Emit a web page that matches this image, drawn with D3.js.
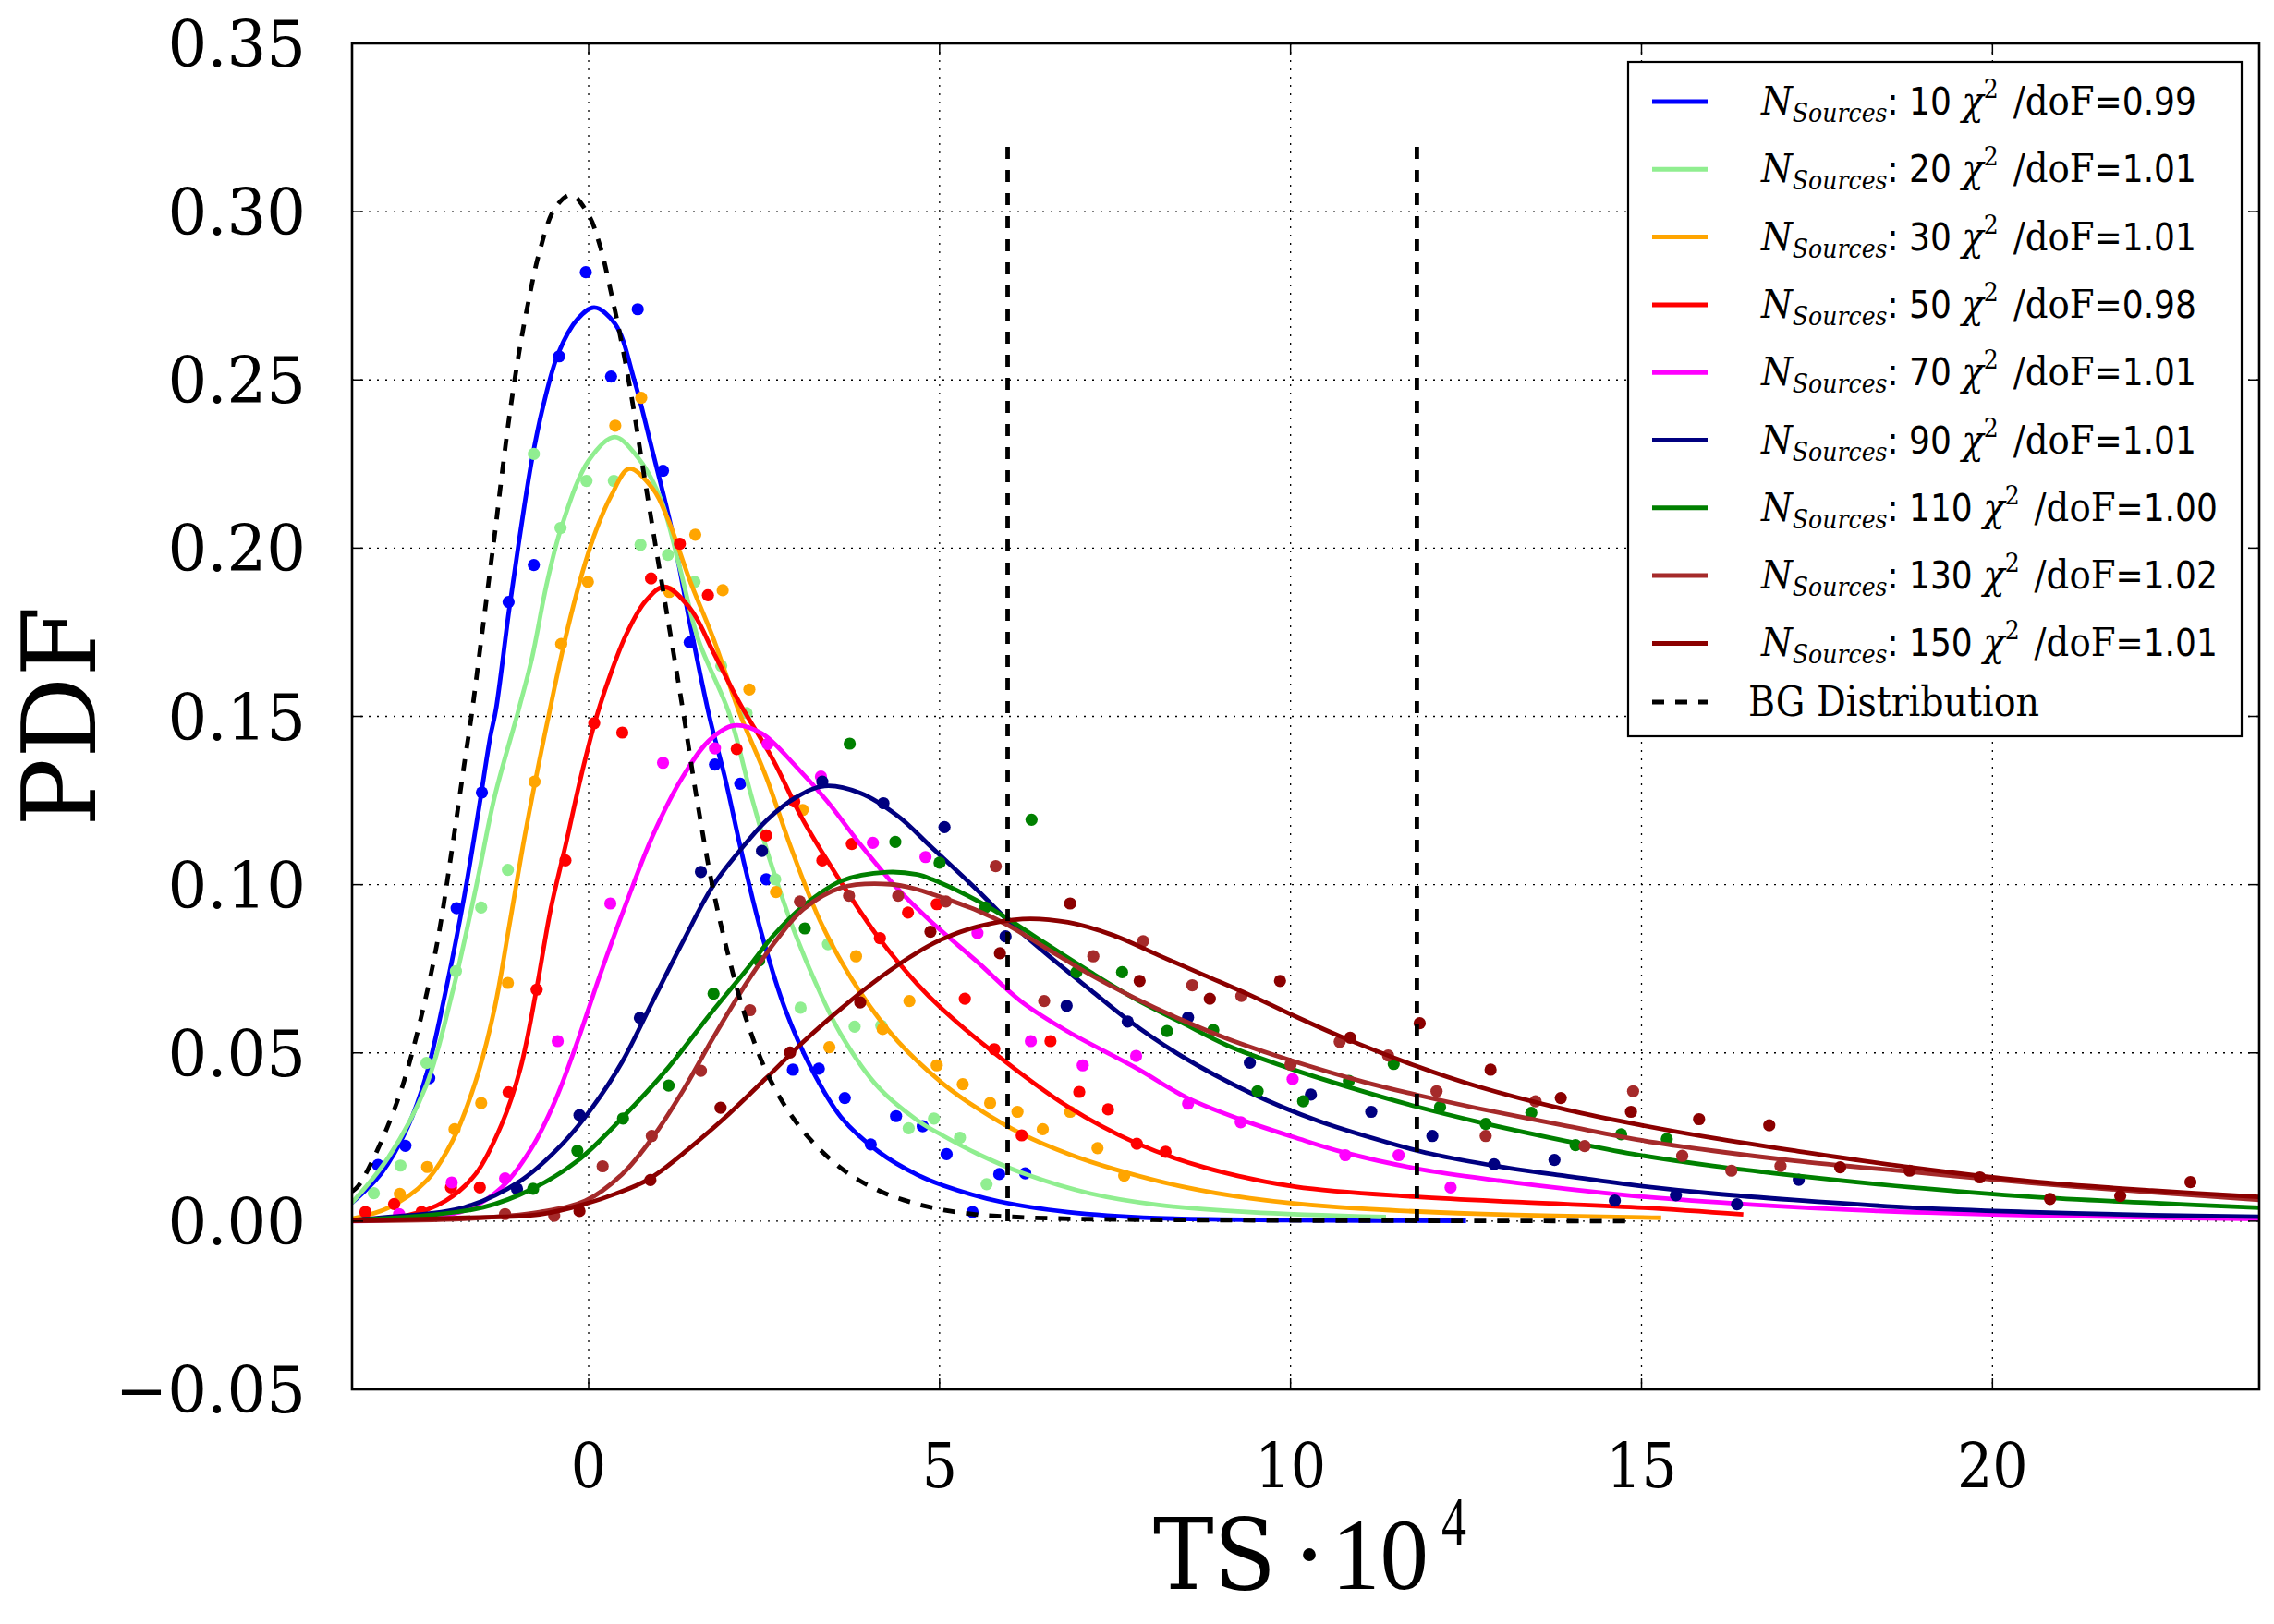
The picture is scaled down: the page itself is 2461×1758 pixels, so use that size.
<!DOCTYPE html>
<html><head><meta charset="utf-8">
<script src="https://cdn.jsdelivr.net/npm/d3@7"></script>
<style>body{margin:0;background:#fff} svg{display:block}</style>
</head><body>
<script>
// ---------------- DATA ----------------
const nSources = ["10","20","30","50","70","90","110","130","150"];
const chi2Labels = ["0.99","1.01","1.01","0.98","1.01","1.01","1.00","1.02","1.01"];
const colors = ["#0000ff","#90ee90","#ffa500","#ff0000","#ff00ff","#000080","#008000","#a52a2a","#8b0000"];

const xTicks = [0,5,10,15,20];
const yTicks = [-0.05,0,0.05,0.10,0.15,0.20,0.25,0.30,0.35];

// fitted curves (x, pdf)
const fit10 = [[-3.37,0.0055],[-2.96,0.014],[-2.58,0.0278],[-2.31,0.0435],[-2.04,0.068],[-1.77,0.0967],[-1.56,0.123],[-1.40,0.144],[-1.32,0.152],[-1.13,0.182],[-0.97,0.205],[-0.81,0.226],[-0.65,0.242],[-0.43,0.258],[-0.16,0.268],[0.08,0.2715],[0.38,0.2666],[0.65,0.25],[0.92,0.228],[1.19,0.205],[1.45,0.177],[1.72,0.150],[1.94,0.132],[2.20,0.1077],[2.47,0.085],[2.80,0.063],[3.17,0.0455],[3.60,0.0308],[4.14,0.0205],[4.68,0.0138],[5.04,0.0107],[5.86,0.0058],[6.83,0.0027],[8.1,0.0009],[10,0.0003],[12.5,0.0001]];
const fit20 = [[-3.37,0.0055],[-2.85,0.019],[-2.31,0.0405],[-1.94,0.068],[-1.61,0.0986],[-1.34,0.126],[-1.01,0.151],[-0.81,0.167],[-0.59,0.19],[-0.38,0.2067],[0,0.226],[0.37,0.233],[0.70,0.227],[1.02,0.215],[1.29,0.195],[1.56,0.173],[2.0,0.151],[2.31,0.127],[2.58,0.1075],[2.90,0.0878],[3.23,0.071],[3.60,0.0553],[4.14,0.0395],[4.68,0.0300],[5.04,0.0255],[5.54,0.0200],[6.18,0.0143],[7.15,0.0082],[8.12,0.0048],[9.42,0.0027],[11.36,0.0012]];
const fit30 = [[-3.37,0.0007],[-2.85,0.004],[-2.31,0.012],[-1.94,0.0238],[-1.61,0.0415],[-1.34,0.0632],[-1.13,0.0878],[-0.91,0.1144],[-0.70,0.137],[-0.566,0.1505],[-0.377,0.1690],[-0.216,0.1830],[-0.05,0.1955],[0.11,0.2055],[0.32,0.2155],[0.58,0.2236],[0.92,0.2175],[1.13,0.2086],[1.45,0.19],[1.78,0.173],[2.15,0.151],[2.53,0.132],[2.90,0.110],[3.33,0.0878],[3.87,0.068],[4.41,0.0533],[5.04,0.0410],[5.54,0.0335],[6.18,0.0258],[6.83,0.0200],[7.48,0.0155],[8.45,0.0103],[9.42,0.0068],[10.7,0.0041],[12.65,0.0022],[15.28,0.0010]];
const fit50 = [[-3.37,0.0002],[-2.58,0.0017],[-2.04,0.006],[-1.61,0.014],[-1.24,0.0287],[-0.97,0.0455],[-0.75,0.068],[-0.54,0.0927],[-0.32,0.1124],[-0.11,0.132],[0.10,0.149],[0.32,0.163],[0.54,0.1745],[0.81,0.1842],[1.08,0.1885],[1.45,0.182],[1.78,0.169],[2.15,0.154],[2.63,0.137],[3.06,0.119],[3.60,0.1006],[4.14,0.084],[4.68,0.0705],[5.04,0.0630],[5.73,0.0508],[6.83,0.0340],[7.80,0.0232],[8.77,0.0160],[10.07,0.0102],[11.8,0.0072],[13.3,0.0056],[15.03,0.004],[16.45,0.002]];
const fit70 = [[-3.37,0.0],[-2.58,0.0007],[-1.77,0.0031],[-1.24,0.010],[-0.81,0.0218],[-0.48,0.0356],[-0.16,0.0533],[0.16,0.073],[0.54,0.0947],[0.91,0.1144],[1.34,0.132],[1.72,0.1429],[2.07,0.1473],[2.47,0.1449],[2.96,0.135],[3.39,0.125],[3.87,0.112],[4.41,0.0986],[4.89,0.0888],[5.54,0.077],[6.18,0.065],[6.83,0.0563],[7.80,0.0455],[8.54,0.0365],[9.29,0.0302],[10.07,0.0248],[10.78,0.0203],[11.8,0.0156],[12.98,0.012],[14.89,0.0075],[16.59,0.0049],[18.3,0.0031],[20,0.002],[21.7,0.0013],[23.8,0.0006]];
const fit90 = [[-3.37,0.0003],[-2.85,0.0012],[-1.77,0.0041],[-0.97,0.012],[-0.38,0.0228],[0.05,0.0337],[0.48,0.0474],[0.91,0.0652],[1.34,0.0829],[1.77,0.0996],[2.15,0.110],[2.53,0.119],[2.96,0.126],[3.36,0.1293],[3.87,0.1272],[4.41,0.1203],[4.89,0.111],[5.54,0.0983],[5.97,0.0894],[6.51,0.0796],[7.15,0.0687],[7.67,0.0600],[8.45,0.049],[9.42,0.0382],[10.39,0.0298],[11.36,0.0235],[12.0,0.0200],[12.98,0.0162],[13.95,0.0133],[14.89,0.0107],[16.02,0.0082],[17.16,0.0063],[18.86,0.004],[20.56,0.0027],[22.27,0.0018],[23.8,0.0013]];
const fit110 = [[-3.37,0.0003],[-2.31,0.0017],[-1.5,0.0041],[-0.81,0.0095],[-0.16,0.0179],[0.48,0.0307],[1.13,0.0455],[1.72,0.0612],[2.26,0.075],[2.63,0.0848],[3.06,0.0937],[3.60,0.1011],[4.25,0.1037],[4.68,0.103],[4.89,0.1016],[5.54,0.0952],[5.97,0.0899],[6.51,0.0825],[7.15,0.0740],[7.80,0.0659],[8.45,0.059],[9.1,0.0522],[10.0,0.0453],[11.04,0.0385],[11.8,0.034],[12.65,0.0296],[13.95,0.0237],[14.89,0.0199],[16.02,0.0164],[17.16,0.0136],[18.86,0.010],[20.56,0.0072],[22.27,0.0054],[23.8,0.004]];
const fit130 = [[-3.37,0.0001],[-1.77,0.0007],[-0.70,0.0027],[-0.05,0.006],[0.48,0.014],[0.91,0.0248],[1.34,0.0386],[1.77,0.0543],[2.26,0.0711],[2.69,0.0839],[3.06,0.0927],[3.60,0.0991],[4.30,0.1001],[4.68,0.0986],[4.89,0.0972],[5.54,0.0923],[5.97,0.0880],[6.51,0.0812],[7.15,0.0732],[7.80,0.0661],[8.45,0.0598],[9.1,0.0542],[10.0,0.0478],[11.04,0.0414],[11.8,0.0375],[12.65,0.0336],[13.95,0.0282],[15.0,0.0240],[16.02,0.0209],[17.16,0.0180],[18.86,0.0146],[20.56,0.0113],[22.27,0.0086],[23.8,0.0063]];
const fit150 = [[-3.37,0.0001],[-1.77,0.001],[-0.70,0.002],[-0.05,0.0051],[0.38,0.0081],[0.86,0.0125],[1.45,0.0219],[1.99,0.0317],[2.53,0.0425],[3.06,0.0533],[3.60,0.0632],[4.14,0.0722],[4.68,0.0798],[5.04,0.0838],[5.54,0.0875],[6.18,0.0898],[6.83,0.0888],[7.48,0.0849],[8.12,0.079],[8.77,0.0731],[9.42,0.0672],[10.0,0.0615],[10.71,0.0549],[11.8,0.0460],[12.65,0.0401],[13.95,0.0330],[15.0,0.0285],[16.02,0.0247],[17.16,0.0210],[18.86,0.0159],[20.56,0.0118],[22.27,0.0091],[23.8,0.0072]];

// histogram points (x, pdf)
const pts10 = [[-3.0,0.0167],[-2.61,0.0224],[-2.27,0.0425],[-1.88,0.093],[-1.52,0.1274],[-1.14,0.184],[-0.78,0.195],[-0.42,0.257],[-0.04,0.282],[0.32,0.251],[0.70,0.271],[1.06,0.223],[1.44,0.172],[1.80,0.1357],[2.16,0.130],[2.53,0.1016],[2.91,0.045],[3.28,0.0453],[3.65,0.0366],[4.02,0.0228],[4.38,0.0312],[4.76,0.0282],[5.10,0.0199],[5.47,0.0027],[5.85,0.014],[6.22,0.0142]];
const pts20 = [[-3.06,0.0083],[-2.68,0.0165],[-2.31,0.047],[-1.89,0.0743],[-1.53,0.0932],[-1.15,0.1044],[-0.78,0.228],[-0.40,0.206],[-0.03,0.22],[0.36,0.22],[0.74,0.201],[1.13,0.198],[1.51,0.19],[1.89,0.165],[2.25,0.151],[2.66,0.1016],[3.02,0.0634],[3.41,0.0823],[3.79,0.0578],[4.17,0.0581],[4.56,0.0276],[4.92,0.0305],[5.29,0.0248],[5.67,0.011]];
const pts30 = [[-2.69,0.0081],[-2.30,0.0161],[-1.91,0.0273],[-1.53,0.0351],[-1.15,0.0708],[-0.77,0.1306],[-0.39,0.1715],[-0.01,0.19],[0.38,0.2364],[0.75,0.2447],[1.15,0.187],[1.52,0.204],[1.91,0.1875],[2.29,0.158],[2.67,0.0978],[3.05,0.1222],[3.43,0.0517],[3.81,0.0787],[4.19,0.0571],[4.57,0.0654],[4.96,0.0463],[5.33,0.0407],[5.72,0.0351],[6.11,0.0325],[6.47,0.0273],[6.86,0.0325],[7.25,0.0217],[7.63,0.0135]];
const pts50 = [[-3.18,0.0027],[-2.77,0.0051],[-2.38,0.0027],[-1.96,0.010],[-1.55,0.010],[-1.14,0.0383],[-0.74,0.0688],[-0.33,0.1072],[0.08,0.148],[0.48,0.1452],[0.89,0.191],[1.30,0.2013],[1.70,0.186],[2.11,0.1403],[2.53,0.1146],[2.93,0.1247],[3.33,0.1072],[3.75,0.1121],[4.15,0.0841],[4.55,0.0917],[4.96,0.0942],[5.36,0.0661],[5.78,0.0511],[6.17,0.0255],[6.58,0.0535],[6.99,0.0384],[7.40,0.0332],[7.81,0.023],[8.22,0.0206]];
const pts70 = [[-2.70,0.0021],[-1.95,0.0115],[-1.19,0.0127],[-0.44,0.0535],[0.31,0.0944],[1.06,0.1362],[1.80,0.1405],[2.55,0.1418],[3.31,0.1321],[4.05,0.1124],[4.80,0.1082],[5.54,0.0856],[6.30,0.0535],[7.04,0.0463],[7.80,0.0491],[8.54,0.0349],[9.29,0.0294],[10.03,0.0422],[10.78,0.0196],[11.54,0.0196],[12.28,0.010]];
const pts90 = [[-1.02,0.0096],[-0.13,0.0315],[0.73,0.0604],[1.60,0.1038],[2.47,0.110],[3.33,0.1306],[4.20,0.1242],[5.07,0.1171],[5.94,0.0846],[6.81,0.064],[7.68,0.0593],[8.54,0.0605],[9.42,0.0471],[10.29,0.0376],[11.15,0.0325],[12.02,0.0253],[12.90,0.0169],[13.76,0.0182],[14.62,0.0061],[15.49,0.0077],[16.36,0.005],[17.24,0.0123]];
const pts110 = [[-0.79,0.0096],[-0.16,0.0209],[0.49,0.0305],[1.14,0.0403],[1.78,0.0676],[2.43,0.0774],[3.08,0.087],[3.72,0.1419],[4.37,0.1127],[5.0,0.1065],[5.65,0.0932],[6.31,0.1193],[6.95,0.074],[7.6,0.074],[8.24,0.0565],[8.9,0.0568],[9.53,0.0386],[10.18,0.0356],[10.83,0.0417],[11.47,0.0467],[12.13,0.0339],[12.78,0.0289],[13.43,0.0322],[14.06,0.0226],[14.71,0.0258],[15.36,0.0244]];
const pts130 = [[-1.19,0.0021],[-0.49,0.0016],[0.20,0.0163],[0.90,0.0253],[1.60,0.0447],[2.30,0.0627],[3.01,0.095],[3.71,0.0967],[4.41,0.0967],[5.09,0.095],[5.80,0.1055],[6.49,0.0654],[7.19,0.0787],[7.90,0.0832],[8.60,0.0701],[9.30,0.0669],[10.0,0.0465],[10.70,0.0533],[11.39,0.0492],[12.08,0.0386],[12.78,0.0253],[13.49,0.0356],[14.19,0.0223],[14.88,0.0386],[15.58,0.0194],[16.28,0.015],[16.98,0.0164]];
const pts150 = [[-0.13,0.003],[0.88,0.0122],[1.88,0.0337],[2.87,0.0501],[3.87,0.065],[4.87,0.086],[5.86,0.0796],[6.86,0.0944],[7.85,0.0714],[8.85,0.0661],[9.85,0.0714],[10.85,0.0545],[11.84,0.0588],[12.85,0.045],[13.85,0.0366],[14.85,0.0325],[15.82,0.0303],[16.82,0.0285],[17.83,0.016],[18.82,0.015],[19.82,0.013],[20.82,0.0066],[21.82,0.0075],[22.82,0.0116]];

// background distribution (dashed)
const bgCurve = [[-3.37,0.0088],[-3.28,0.0105],[-3.0,0.0215],[-2.66,0.0396],[-2.37,0.062],[-2.15,0.0835],[-1.95,0.110],[-1.77,0.136],[-1.67,0.150],[-1.54,0.171],[-1.43,0.189],[-1.32,0.207],[-1.24,0.221],[-1.13,0.239],[-1.0,0.257],[-0.86,0.273],[-0.70,0.288],[-0.48,0.301],[-0.25,0.305],[0,0.299],[0.16,0.290],[0.32,0.276],[0.48,0.26],[0.62,0.244],[0.75,0.227],[0.92,0.205],[1.08,0.185],[1.24,0.165],[1.35,0.151],[1.53,0.127],[1.76,0.100],[1.99,0.079],[2.23,0.061],[2.52,0.045],[2.82,0.0335],[3.17,0.0240],[3.55,0.0165],[3.85,0.0122],[4.23,0.0082],[4.61,0.0055],[5.06,0.0033],[5.51,0.0020],[6.1,0.0012],[6.87,0.0007],[8.0,0.0004],[10.0,0.0002],[12.0,0.0001],[14.9,0.0]];

const thresholds = [5.97, 11.80];
const thresholdTop = 0.32;

const fits = [fit10,fit20,fit30,fit50,fit70,fit90,fit110,fit130,fit150];
const points = [pts10,pts20,pts30,pts50,pts70,pts90,pts110,pts130,pts150];

// ---------------- LAYOUT ----------------
const W = 2461, H = 1758;
const L = 381, R = 2445, T = 47, B = 1504;
const SX = 0.9; // horizontal text compression
const LW_CURVE = 4.8;

const svg = d3.select("body").append("svg").attr("width", W).attr("height", H)
  .style("font-family", "'DejaVu Serif', serif");
svg.append("rect").attr("width", W).attr("height", H).attr("fill", "#fff");

const x = d3.scaleLinear().domain([-3.37, 23.8]).range([L, R]);
const y = d3.scaleLinear().domain([-0.05, 0.35]).range([B, T]);

svg.append("clipPath").attr("id", "clip").append("rect")
  .attr("x", L).attr("y", T).attr("width", R - L).attr("height", B - T);

// grid
const grid = svg.append("g");
grid.selectAll(".gx").data(xTicks).join("line")
  .attr("x1", d => x(d)).attr("x2", d => x(d)).attr("y1", T).attr("y2", B)
  .attr("stroke", "#000").attr("stroke-width", 1.3).attr("stroke-dasharray", "2,7");
grid.selectAll(".gy").data(yTicks).join("line")
  .attr("y1", d => y(d)).attr("y2", d => y(d)).attr("x1", L).attr("x2", R)
  .attr("stroke", "#000").attr("stroke-width", 1.3).attr("stroke-dasharray", "2,7");

const plot = svg.append("g").attr("clip-path", "url(#clip)");
const line = d3.line().x(d => x(d[0])).y(d => y(d[1])).curve(d3.curveCatmullRom.alpha(0.5));

fits.forEach((f, i) => {
  plot.append("g").selectAll("circle").data(points[i]).join("circle")
    .attr("cx", d => x(d[0])).attr("cy", d => y(d[1])).attr("r", 6.6)
    .attr("fill", colors[i]);
  plot.append("path").datum(f).attr("d", line)
    .attr("fill", "none").attr("stroke", colors[i]).attr("stroke-width", LW_CURVE)
    .attr("stroke-linejoin", "round");
});

plot.append("path").datum(bgCurve).attr("d", line)
  .attr("fill", "none").attr("stroke", "#000").attr("stroke-width", LW_CURVE)
  .attr("stroke-dasharray", "13,12");

plot.selectAll(".thr").data(thresholds).join("line")
  .attr("x1", d => x(d)).attr("x2", d => x(d))
  .attr("y1", y(0)).attr("y2", y(thresholdTop))
  .attr("stroke", "#000").attr("stroke-width", LW_CURVE).attr("stroke-dasharray", "13,12");

// ticks (inward, all sides)
const tk = svg.append("g").attr("stroke", "#000").attr("stroke-width", 1.5);
xTicks.forEach(t => {
  tk.append("line").attr("x1", x(t)).attr("x2", x(t)).attr("y1", B).attr("y2", B - 12);
  tk.append("line").attr("x1", x(t)).attr("x2", x(t)).attr("y1", T).attr("y2", T + 12);
});
yTicks.forEach(t => {
  tk.append("line").attr("y1", y(t)).attr("y2", y(t)).attr("x1", L).attr("x2", L + 12);
  tk.append("line").attr("y1", y(t)).attr("y2", y(t)).attr("x1", R).attr("x2", R - 12);
});

// frame
svg.append("rect").attr("x", L).attr("y", T).attr("width", R - L).attr("height", B - T)
  .attr("fill", "none").attr("stroke", "#000").attr("stroke-width", 2.6);

// tick labels
const fmtY = d3.format(".2f");
svg.append("g").selectAll("g").data(yTicks).join("g")
  .attr("transform", d => `translate(${L - 50},${y(d) + 25}) scale(0.96,1)`)
  .append("text").attr("text-anchor", "end").attr("font-size", 70).text(d => fmtY(d));
svg.append("g").selectAll("g").data(xTicks).join("g")
  .attr("transform", d => `translate(${x(d)},1610) scale(${SX},1)`)
  .append("text").attr("text-anchor", "middle").attr("font-size", 67).text(d => d);

// axis labels
svg.append("g").attr("transform", `translate(103,${(T + B) / 2}) rotate(-90)`)
  .append("text").attr("text-anchor", "middle").attr("font-size", 110).text("PDF");

// x label: "TS · 10^4"
const xlab = svg.append("g");
xlab.append("text").attr("x", 1248).attr("y", 1720).attr("font-size", 106)
  .attr("textLength", 133).attr("lengthAdjust", "spacingAndGlyphs").text("TS");
xlab.append("text").attr("x", 1417).attr("y", 1720).attr("text-anchor", "middle")
  .attr("font-size", 106).text("·");
xlab.append("text").attr("x", 1441).attr("y", 1720).attr("font-size", 110)
  .style("font-family", "'Liberation Serif', serif")
  .attr("textLength", 105).attr("lengthAdjust", "spacingAndGlyphs").text("10");
xlab.append("text").attr("x", 1560).attr("y", 1672).attr("font-size", 74)
  .style("font-family", "'Liberation Serif', serif")
  .attr("textLength", 27).attr("lengthAdjust", "spacingAndGlyphs").text("4");

// legend
const LX = 1762, LY = 67, LW = 664, LH = 730;
const lg = svg.append("g");
lg.append("rect").attr("x", LX).attr("y", LY).attr("width", LW).attr("height", LH)
  .attr("fill", "#fff").attr("stroke", "#000").attr("stroke-width", 2.2);
const rowY = i => 110 + i * 73.3;
const SANS = "'DejaVu Sans', sans-serif";
nSources.forEach((n, i) => {
  lg.append("line").attr("x1", 1788).attr("x2", 1848).attr("y1", rowY(i)).attr("y2", rowY(i))
    .attr("stroke", colors[i]).attr("stroke-width", 5);
  const t = lg.append("g").attr("transform", `translate(1906,${rowY(i) + 14}) scale(${SX},1)`)
    .append("text").attr("font-size", 43);
  t.append("tspan").attr("font-style", "italic").text("N");
  t.append("tspan").attr("font-style", "italic").attr("font-size", 28).attr("dy", 8).text("Sources");
  t.append("tspan").attr("font-family", SANS).attr("font-size", 40).attr("dy", -8).text(`: ${n} `);
  t.append("tspan").attr("font-style", "italic").text("χ");
  t.append("tspan").attr("font-size", 28).attr("dy", -18).text("2");
  t.append("tspan").attr("dy", 18).attr("dx", 4).text(" /doF");
  t.append("tspan").attr("font-family", SANS).attr("font-size", 40).text(`=${chi2Labels[i]}`);
});
const bgRow = 760;
lg.append("line").attr("x1", 1788).attr("x2", 1848).attr("y1", bgRow).attr("y2", bgRow)
  .attr("stroke", "#000").attr("stroke-width", 5).attr("stroke-dasharray", "13,12");
lg.append("g").attr("transform", `translate(1892,${bgRow + 15}) scale(${SX},1)`)
  .append("text").attr("font-size", 44).text("BG Distribution");
</script>
</body></html>
